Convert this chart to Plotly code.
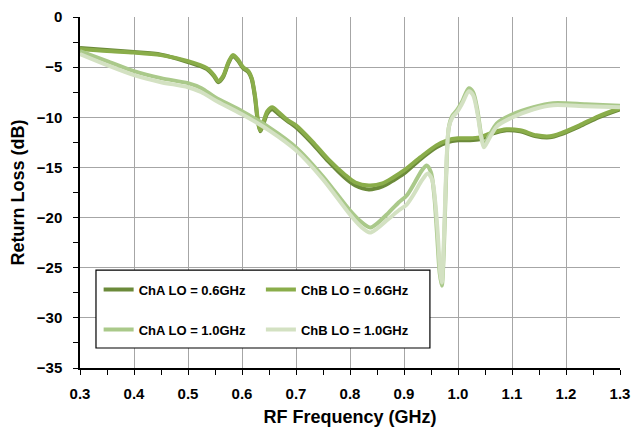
import plotly.graph_objects as go

# ---- data ----
f_a06 = [0.30, 0.35, 0.40, 0.45, 0.50, 0.535, 0.548, 0.556, 0.565, 0.575, 0.583, 0.592, 0.602, 0.612, 0.618,
         0.624, 0.629, 0.634, 0.640, 0.647, 0.656, 0.668, 0.685, 0.70, 0.73, 0.76, 0.79, 0.81, 0.835, 0.86,
         0.88, 0.90, 0.93, 0.96, 0.98, 1.00, 1.02, 1.04, 1.065, 1.09, 1.115, 1.145, 1.17, 1.19, 1.225, 1.26, 1.30]
v_a06 = [-3.1, -3.3, -3.5, -3.75, -4.5, -5.2, -5.9, -6.5, -6.0, -4.6, -3.9, -4.3, -5.1, -5.5, -6.2,
         -8.0, -10.3, -11.4, -10.6, -9.6, -9.2, -9.7, -10.4, -11.0, -12.6, -14.4, -16.0, -16.8, -17.2, -16.9,
         -16.3, -15.6, -14.2, -13.0, -12.5, -12.3, -12.3, -12.2, -11.6, -11.3, -11.4, -11.9, -12.0, -11.7, -10.9, -10.0, -9.2]

f_b06 = [0.30, 0.35, 0.40, 0.45, 0.50, 0.535, 0.548, 0.556, 0.565, 0.575, 0.583, 0.592, 0.602, 0.612, 0.618,
         0.624, 0.629, 0.634, 0.640, 0.647, 0.656, 0.668, 0.685, 0.70, 0.73, 0.76, 0.79, 0.81, 0.835, 0.86,
         0.88, 0.90, 0.93, 0.96, 0.98, 1.00, 1.02, 1.04, 1.065, 1.09, 1.115, 1.145, 1.17, 1.19, 1.225, 1.26, 1.30]
v_b06 = [-3.2, -3.4, -3.55, -3.8, -4.4, -5.1, -5.8, -6.4, -5.9, -4.5, -3.8, -4.2, -5.0, -5.4, -6.1,
         -7.8, -10.1, -11.3, -10.4, -9.4, -9.0, -9.5, -10.3, -10.8, -12.4, -14.2, -15.7, -16.5, -16.8, -16.6,
         -16.0, -15.3, -14.0, -12.8, -12.3, -12.1, -12.1, -12.0, -11.5, -11.2, -11.3, -11.8, -11.9, -11.6, -10.8, -9.9, -9.1]

f_a10 = [0.30, 0.35, 0.40, 0.45, 0.50, 0.525, 0.55, 0.60, 0.65, 0.70, 0.75, 0.80, 0.82, 0.837, 0.85,
         0.87, 0.89, 0.905, 0.92, 0.933, 0.942, 0.950, 0.956, 0.961, 0.966, 0.970, 0.974, 0.978, 0.983,
         0.990, 0.998, 1.008, 1.020, 1.028, 1.036, 1.043, 1.048, 1.056, 1.072, 1.097, 1.14, 1.176, 1.237, 1.30]
v_a10 = [-3.4, -4.4, -5.4, -6.1, -6.6, -7.1, -8.0, -9.4, -11.0, -13.0, -15.9, -19.3, -20.4, -21.0, -20.6,
         -19.6, -18.5, -17.8, -16.5, -15.3, -14.8, -15.5, -17.8, -21.5, -25.5, -26.8, -23.0, -16.0, -11.0,
         -9.8, -9.3, -8.4, -7.1, -7.5, -9.3, -11.8, -12.8, -12.0, -10.6, -9.8, -9.0, -8.6, -8.7, -8.85]

f_b10 = [0.30, 0.35, 0.40, 0.45, 0.50, 0.525, 0.55, 0.60, 0.65, 0.70, 0.75, 0.80, 0.82, 0.837, 0.85,
         0.87, 0.89, 0.905, 0.92, 0.933, 0.944, 0.952, 0.958, 0.963, 0.967, 0.970, 0.974, 0.978, 0.983,
         0.990, 0.998, 1.008, 1.020, 1.028, 1.036, 1.043, 1.048, 1.056, 1.072, 1.097, 1.14, 1.176, 1.237, 1.30]
v_b10 = [-3.7, -4.8, -5.8, -6.5, -7.0, -7.5, -8.3, -9.7, -11.3, -13.3, -16.2, -19.7, -20.9, -21.5, -21.1,
         -20.2, -19.3, -18.7, -17.5, -16.3, -15.6, -16.2, -18.5, -22.0, -25.5, -26.5, -22.0, -15.5, -11.0,
         -10.0, -9.5, -8.6, -7.4, -7.8, -9.6, -12.0, -13.0, -12.3, -10.9, -10.1, -9.2, -8.8, -8.9, -9.0]

names = ["ChA LO = 0.6GHz", "ChB LO = 0.6GHz", "ChA LO = 1.0GHz", "ChB LO = 1.0GHz"]
colors = ["#6b8a3a", "#8aad4a", "#aac98a", "#d3e1c2"]
legend_ids = ["legend", "legend2", "legend", "legend2"]
series = [(f_a06, v_a06), (f_b06, v_b06), (f_a10, v_a10), (f_b10, v_b10)]

x_ticks = [0.3, 0.4, 0.5, 0.6, 0.7, 0.8, 0.9, 1.0, 1.1, 1.2, 1.3]
y_ticks = [0, -5, -10, -15, -20, -25, -30, -35]

fig = go.Figure()
for (fx, vy), nm, c, lg in zip(series, names, colors, legend_ids):
    fig.add_trace(go.Scatter(
        x=fx, y=vy, mode="lines", name=nm, legend=lg, legendgroup=nm,
        line=dict(color=c, width=4, shape="spline", smoothing=0.8),
    ))

font_fam = "Liberation Sans, Arial, sans-serif"
tickfont = dict(family=font_fam, size=15, color="black", weight="bold")
legfont = dict(family=font_fam, size=13, color="black", weight="bold")

# legend frame (white box with black border)
fig.add_shape(type="rect", xref="paper", yref="paper", x0=0.0296, x1=0.648, y0=0.057, y1=0.279,
              fillcolor="white", line=dict(color="black", width=1.2), layer="above")

fig.update_layout(
    width=634, height=434,
    margin=dict(l=80, r=14, t=17, b=66, autoexpand=False),
    paper_bgcolor="white", plot_bgcolor="white",
    font=dict(family=font_fam, color="black"),
    showlegend=True,
    legend=dict(
        orientation="v", x=0.0345, y=0.266, xanchor="left", yanchor="top",
        bgcolor="rgba(0,0,0,0)", borderwidth=0, font=legfont, tracegroupgap=20,
    ),
    legend2=dict(
        orientation="v", x=0.335, y=0.266, xanchor="left", yanchor="top",
        bgcolor="rgba(0,0,0,0)", borderwidth=0, font=legfont, tracegroupgap=20,
    ),
    xaxis=dict(
        range=[0.3, 1.3], tickvals=x_ticks, ticktext=[f"{v:.1f}" for v in x_ticks], automargin=False,
        showgrid=True, gridcolor="#a6a6a6", gridwidth=1.3, zeroline=False,
        showline=True, linecolor="black", linewidth=1.5,
        ticks="outside", ticklen=5, tickwidth=1.3, tickcolor="black",
        minor=dict(dtick=0.05, ticks="outside", ticklen=5, tickwidth=1.3, tickcolor="black", showgrid=False),
        tickfont=tickfont, ticklabelstandoff=6,
        title=dict(text="RF Frequency (GHz)", font=dict(family=font_fam, size=18, color="black", weight="bold"), standoff=10),
    ),
    yaxis=dict(
        range=[-35, 0], tickvals=y_ticks, automargin=False,
        showgrid=True, gridcolor="#a6a6a6", gridwidth=1.3, zeroline=False,
        showline=True, linecolor="black", linewidth=1.5,
        ticks="outside", ticklen=5, tickwidth=1.3, tickcolor="black",
        minor=dict(dtick=2.5, ticks="outside", ticklen=5, tickwidth=1.3, tickcolor="black", showgrid=False),
        tickfont=tickfont, ticklabelstandoff=8,
        title=dict(text="Return Loss (dB)", font=dict(family=font_fam, size=18, color="black", weight="bold"), standoff=7),
    ),
    xaxis2=dict(
        overlaying="x", range=[0.3, 1.3], tickvals=x_ticks, showticklabels=False, showgrid=False, automargin=False,
        zeroline=False, showline=False, side="bottom", anchor="y",
        ticks="inside", ticklen=5, tickwidth=1.3, tickcolor="black",
        minor=dict(dtick=0.05, ticks="inside", ticklen=5, tickwidth=1.3, tickcolor="black", showgrid=False),
    ),
    yaxis2=dict(
        overlaying="y", range=[-35, 0], tickvals=y_ticks, showticklabels=False, showgrid=False, automargin=False,
        zeroline=False, showline=False, side="left", anchor="x",
        ticks="inside", ticklen=5, tickwidth=1.3, tickcolor="black",
        minor=dict(dtick=2.5, ticks="inside", ticklen=5, tickwidth=1.3, tickcolor="black", showgrid=False),
    ),
)

fig.write_html("out.html", config={"displayModeBar": False},
               post_script="document.body.style.margin='0';")
